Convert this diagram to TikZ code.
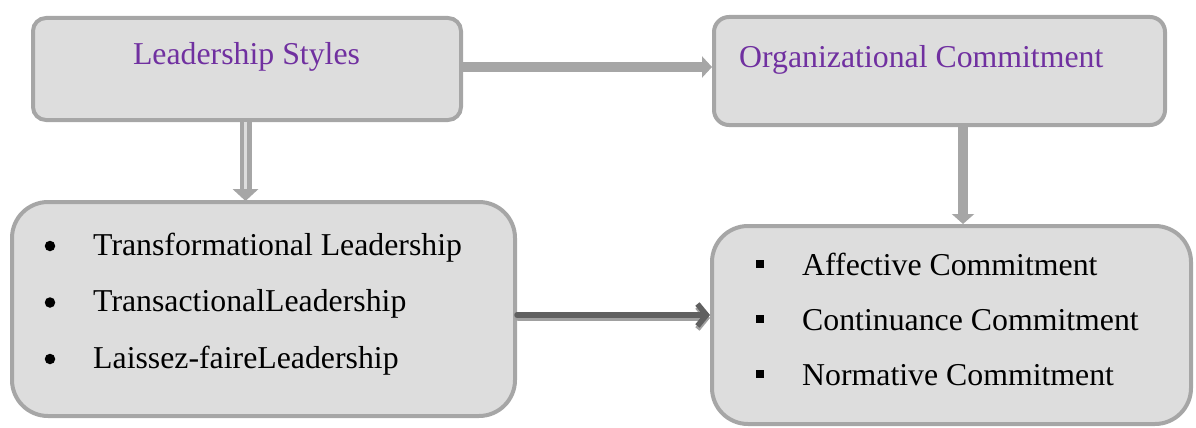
\documentclass[tikz,border=0pt]{standalone}
\usepackage{fontspec}
\setmainfont{Liberation Serif}
\usetikzlibrary{arrows.meta,calc}
\definecolor{boxfill}{HTML}{DDDDDD}
\definecolor{boxline}{HTML}{A6A6A6}
\definecolor{titlepurple}{HTML}{7030A0}
\definecolor{darkarrow}{HTML}{606060}
\definecolor{shadowarrow}{HTML}{A0A0A0}
\tikzset{
  box/.style={draw=boxline, fill=boxfill, line width=4pt, rectangle, inner sep=0pt},
  titletext/.style={inner sep=0pt, text=titlepurple, font=\fontsize{31.8}{38}\selectfont},
  itemtext/.style={inner sep=0pt, anchor=base west, text=black, font=\fontsize{31.8}{38}\selectfont},
  dotbullet/.style={circle, fill=black, inner sep=0pt, minimum size=10.5pt},
  sqbullet/.style={rectangle, fill=black, inner sep=0pt, minimum size=8.5pt},
  grayarrow/.style={draw=boxline, line width=9pt, -{Triangle[length=10pt,width=21pt]}},
  grayarrowb/.style={draw=boxline, line width=10pt, -{Triangle[length=10pt,width=22pt]}},
  dblline/.style={draw=boxline, line width=4.5pt, double=boxfill, double distance=3pt},
  darkline/.style={draw=darkarrow, line width=5.5pt, line cap=round, line join=round, -{Straight Barb[length=9pt,width=22pt]}},
  shadowline/.style={draw=shadowarrow, line width=5.5pt, line cap=round, line join=round, -{Straight Barb[length=9pt,width=22pt]}},
}
\begin{document}
\begin{tikzpicture}[x=1pt,y=-1pt]
\useasboundingbox (0,0) rectangle (1196,428);
% boxes
\node[box, rounded corners=13pt, minimum width=428pt, minimum height=102pt] (ls) at (247,69) {};
\node[box, rounded corners=15pt, minimum width=451pt, minimum height=108pt] (oc) at (939.5,71) {};
\node[box, rounded corners=36pt, minimum width=503pt, minimum height=214pt] (lt) at (263.5,309) {};
\node[box, rounded corners=36pt, minimum width=479pt, minimum height=198pt] (ct) at (951.5,325) {};
% titles
\node[titletext, anchor=base] (lstitle) at (246.5,65) {Leadership Styles};
\node[titletext, anchor=base west] (octitle) at (739,67) {Organizational Commitment};
% left list
\node[dotbullet] (b1) at (50,246) {};
\node[dotbullet] (b2) at (50,302.5) {};
\node[dotbullet] (b3) at (50,359) {};
\node[itemtext] (t1) at (93,255) {Transformational Leadership};
\node[itemtext] (t2) at (93,311.5) {TransactionalLeadership};
\node[itemtext] (t3) at (93,368) {Laissez-faireLeadership};
% right list
\node[sqbullet] (s1) at (760,264) {};
\node[sqbullet] (s2) at (760,319) {};
\node[sqbullet] (s3) at (760,374) {};
\node[itemtext] (r1) at (802,275) {Affective Commitment};
\node[itemtext] (r2) at (802,330) {Continuance Commitment};
\node[itemtext] (r3) at (802,385) {Normative Commitment};
% connectors
\draw[grayarrow] (ls.east |- 0,67) -- (oc.west |- 0,67);
\draw[dblline, shorten >=9pt] (ls.south -| 245.5,0) -- (lt.north -| 245.5,0);
\fill[boxline] ($(lt.north -| 245.5,0)+(-13,-11)$) -- ($(lt.north -| 245.5,0)+(13,-11)$) -- ($(lt.north -| 245.5,0)+(0,1)$) -- cycle;
\draw[grayarrowb] (oc.south -| 963,0) -- (ct.north -| 963,0);
\draw[shadowline] ($(lt.east |- 0,315)+(1,3)$) -- ($(ct.west |- 0,315)+(0,3)$);
\draw[darkline] (lt.east |- 0,315) -- (ct.west |- 0,315);
\end{tikzpicture}
\end{document}
